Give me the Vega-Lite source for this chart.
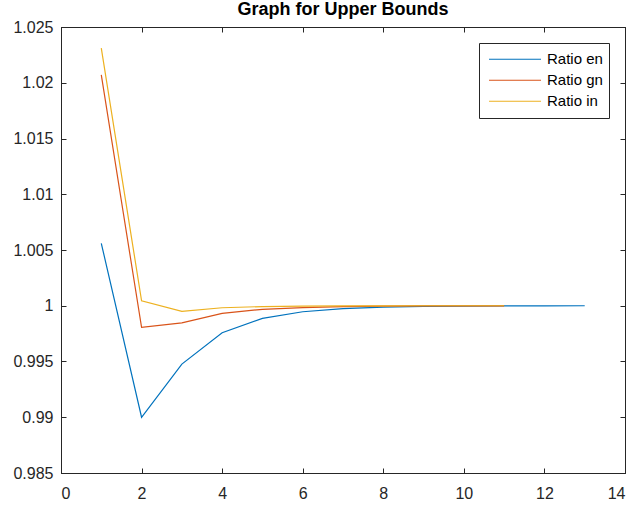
{
  "$schema": "https://vega.github.io/schema/vega-lite/v6.json",
  "autosize": "none",
  "width": 564,
  "height": 446,
  "padding": {"left": 61, "top": 27, "right": 8, "bottom": 32},
  "background": "white",
  "title": {"text": "Graph for Upper Bounds", "font": "Liberation Sans", "fontSize": 18, "fontWeight": "bold", "color": "#000000", "offset": 6, "dy": 6, "anchor": "middle"},
  "config": {
    "view": {"stroke": "#262626", "strokeWidth": 1},
    "axis": {"labelFont": "Liberation Sans", "labelFontSize": 16, "labelColor": "#262626", "domainColor": "#262626", "tickColor": "#262626", "grid": false, "tickSize": -5, "title": null}
  },
  "data": {"values": [
    {"n": 1, "s": "Ratio en", "v": 1.0056},
    {"n": 2, "s": "Ratio en", "v": 0.9900},
    {"n": 3, "s": "Ratio en", "v": 0.99477},
    {"n": 4, "s": "Ratio en", "v": 0.99758},
    {"n": 5, "s": "Ratio en", "v": 0.99887},
    {"n": 6, "s": "Ratio en", "v": 0.99946},
    {"n": 7, "s": "Ratio en", "v": 0.99975},
    {"n": 8, "s": "Ratio en", "v": 0.99988},
    {"n": 9, "s": "Ratio en", "v": 0.99994},
    {"n": 10, "s": "Ratio en", "v": 0.99997},
    {"n": 11, "s": "Ratio en", "v": 0.99999},
    {"n": 12, "s": "Ratio en", "v": 0.999995},
    {"n": 13, "s": "Ratio en", "v": 0.999998},
    {"n": 1, "s": "Ratio gn", "v": 1.0207},
    {"n": 2, "s": "Ratio gn", "v": 0.99806},
    {"n": 3, "s": "Ratio gn", "v": 0.99847},
    {"n": 4, "s": "Ratio gn", "v": 0.99932},
    {"n": 5, "s": "Ratio gn", "v": 0.99968},
    {"n": 6, "s": "Ratio gn", "v": 0.99984},
    {"n": 7, "s": "Ratio gn", "v": 0.99992},
    {"n": 8, "s": "Ratio gn", "v": 0.99996},
    {"n": 9, "s": "Ratio gn", "v": 0.99998},
    {"n": 10, "s": "Ratio gn", "v": 0.99999},
    {"n": 11, "s": "Ratio gn", "v": 0.999995},
    {"n": 1, "s": "Ratio in", "v": 1.0231},
    {"n": 2, "s": "Ratio in", "v": 1.00045},
    {"n": 3, "s": "Ratio in", "v": 0.9995},
    {"n": 4, "s": "Ratio in", "v": 0.99982},
    {"n": 5, "s": "Ratio in", "v": 0.99993},
    {"n": 6, "s": "Ratio in", "v": 0.99997},
    {"n": 7, "s": "Ratio in", "v": 0.99999},
    {"n": 8, "s": "Ratio in", "v": 0.999995},
    {"n": 9, "s": "Ratio in", "v": 0.999998},
    {"n": 10, "s": "Ratio in", "v": 0.999999},
    {"n": 11, "s": "Ratio in", "v": 1.0}
  ]},
  "layer": [
    {
      "mark": {"type": "line", "strokeWidth": 1.2, "clip": true},
      "encoding": {
        "x": {"field": "n", "type": "quantitative", "scale": {"domain": [0, 14], "nice": false, "zero": false},
              "axis": {"orient": "bottom", "values": [0, 2, 4, 6, 8, 10, 12, 14], "format": "d", "labelPadding": 17}},
        "y": {"field": "v", "type": "quantitative", "scale": {"domain": [0.985, 1.025], "nice": false, "zero": false},
              "axis": {"orient": "left", "values": [0.985, 0.99, 0.995, 1, 1.005, 1.01, 1.015, 1.02, 1.025], "format": "~g", "labelPadding": 13}},
        "color": {"field": "s", "type": "nominal",
                  "scale": {"domain": ["Ratio en", "Ratio gn", "Ratio in"], "range": ["#0072BD", "#D95319", "#EDB120"]},
                  "legend": {"title": null, "orient": "top-right", "offset": 16, "symbolType": "stroke", "symbolSize": 2700, "symbolStrokeWidth": 1.2,
                             "labelFont": "Liberation Sans", "labelFontSize": 15, "labelColor": "#000000", "strokeColor": "#262626", "fillColor": "white",
                             "padding": 6, "rowPadding": 0, "clipHeight": 20.5, "symbolOffset": 3, "labelOffset": 5}}
      }
    },
    {
      "mark": {"type": "line", "opacity": 0},
      "encoding": {
        "x": {"field": "n", "type": "quantitative", "axis": {"orient": "top", "values": [0, 2, 4, 6, 8, 10, 12, 14], "labels": false}},
        "y": {"field": "v", "type": "quantitative", "axis": {"orient": "right", "values": [0.985, 0.99, 0.995, 1, 1.005, 1.01, 1.015, 1.02, 1.025], "labels": false}}
      }
    }
  ],
  "resolve": {"axis": {"x": "independent", "y": "independent"}}
}
